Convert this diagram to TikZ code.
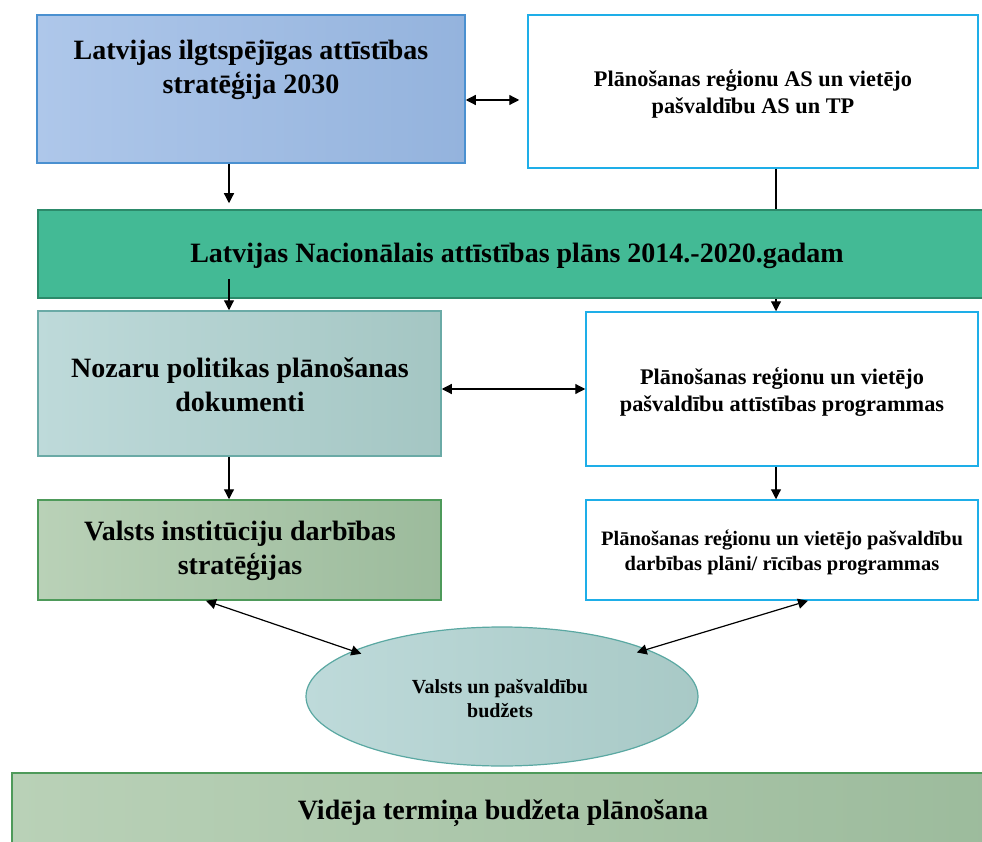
\documentclass[tikz,border=0pt]{standalone}
\usepackage{fontspec}
\setmainfont{Liberation Serif}
\usetikzlibrary{arrows.meta,shapes.geometric}
\definecolor{aL}{HTML}{AEC7EA}\definecolor{aR}{HTML}{94B3DD}\definecolor{aB}{HTML}{4A90D0}
\definecolor{cyanB}{HTML}{1EAEE8}
\definecolor{cF}{HTML}{43BA95}\definecolor{cB}{HTML}{2C8A6A}
\definecolor{dL}{HTML}{BEDADA}\definecolor{dR}{HTML}{A4C6C3}\definecolor{dB}{HTML}{6AAAA6}
\definecolor{fL}{HTML}{B9D1B7}\definecolor{fR}{HTML}{9CBB9C}\definecolor{fB}{HTML}{4E9A5A}
\definecolor{hL}{HTML}{BEDADA}\definecolor{hR}{HTML}{A8C9C6}\definecolor{hB}{HTML}{5AA8A2}
\begin{document}
\begin{tikzpicture}[x=1pt,y=-1pt,
  boxbase/.style={rectangle,inner sep=0pt,line width=1.5pt},
  blueA/.style={boxbase,draw=aB,left color=aL,right color=aR},
  whitebox/.style={boxbase,draw=cyanB,fill=white},
  greenband/.style={boxbase,draw=cB,fill=cF},
  tealbox/.style={boxbase,draw=dB,left color=dL,right color=dR},
  sagebox/.style={boxbase,draw=fB,left color=fL,right color=fR},
  budget/.style={ellipse,inner sep=0pt,line width=1.2pt,draw=hB,left color=hL,right color=hR},
  bigtxt/.style={align=center,font=\fontsize{28}{34}\selectfont\bfseries,inner sep=0pt},
  midtxt/.style={align=center,font=\fontsize{22.3}{27}\selectfont\bfseries,inner sep=0pt},
  smalltxt/.style={align=center,font=\fontsize{20.5}{25}\selectfont\bfseries,inner sep=0pt},
  elltxt/.style={align=center,font=\fontsize{20}{24}\selectfont\bfseries,inner sep=0pt},
  conn/.style={line width=1.2pt,draw=black},
  arr/.style={conn,-{Triangle[length=10pt,width=10pt]}},
  dbl/.style={conn,{Triangle[length=10pt,width=10pt]}-{Triangle[length=10pt,width=10pt]}}
]
\useasboundingbox (0,0) rectangle (982,842);
\fill[white] (0,0) rectangle (982,842);

% boxes
\node[blueA,minimum width=428pt,minimum height=148pt] (A) at (251,89) {};
\node[whitebox,minimum width=450pt,minimum height=153pt] (B) at (753,91.5) {};
\node[greenband,minimum width=957pt,minimum height=88pt] (C) at (516.5,254) {};
\node[tealbox,minimum width=403pt,minimum height=145pt] (D) at (239.5,383.5) {};
\node[whitebox,minimum width=392pt,minimum height=154pt] (E) at (782,389) {};
\node[sagebox,minimum width=403pt,minimum height=100pt] (F) at (239.5,550) {};
\node[whitebox,minimum width=392pt,minimum height=100pt] (G) at (782,550) {};
\node[budget,minimum width=392pt,minimum height=139pt] (H) at (502,696.5) {};
\node[sagebox,minimum width=988pt,minimum height=87pt] (I) at (506,816.5) {};

% texts
\node[bigtxt] (At) at (251,70) {Latvijas ilgtspējīgas attīstības\\stratēģija 2030};
\node[midtxt] (Bt) at (753,94) {Plānošanas reģionu AS un vietējo\\pašvaldību AS un TP};
\node[bigtxt] (Ct) at (517,256) {Latvijas Nacionālais attīstības plāns 2014.-2020.gadam};
\node[bigtxt] (Dt) at (240,385) {Nozaru politikas plānošanas\\dokumenti};
\node[midtxt] (Et) at (782,392) {Plānošanas reģionu un vietējo\\pašvaldību attīstības programmas};
\node[bigtxt] (Ft) at (240,551) {Valsts institūciju darbības\\stratēģijas};
\node[smalltxt] (Gt) at (782,552.5) {Plānošanas reģionu un vietējo pašvaldību\\darbības plāni/ rīcības programmas};
\node[elltxt] (Ht) at (500,699) {Valsts un pašvaldību\\budžets};
\node[bigtxt] (It) at (503,813) {Vidēja termiņa budžeta plānošana};

% connector columns
\coordinate (xl) at (229,0);
\coordinate (xr) at (776,0);
\coordinate (yab) at (0,100);
\coordinate (yde) at (0,389);
\coordinate (yin) at (0,279);

\draw[dbl,shorten >=8pt] (A.east |- yab) -- (B.west |- yab);
\draw[arr,shorten >=6pt] (A.south -| xl) -- (C.north -| xl);
\draw[conn] (B.south -| xr) -- (C.north -| xr);
\draw[arr] (xl |- yin) -- (D.north -| xl);
\draw[arr] (C.south -| xr) -- (E.north -| xr);
\draw[dbl] (D.east |- yde) -- (E.west |- yde);
\draw[arr] (D.south -| xl) -- (F.north -| xl);
\draw[arr] (E.south -| xr) -- (G.north -| xr);
\draw[dbl,shorten >=-9pt] ([xshift=-33.5pt]F.south) -- (H.163.5);
\draw[dbl,shorten >=-11pt] ([xshift=26pt]G.south) -- (H.18);
\end{tikzpicture}
\end{document}
